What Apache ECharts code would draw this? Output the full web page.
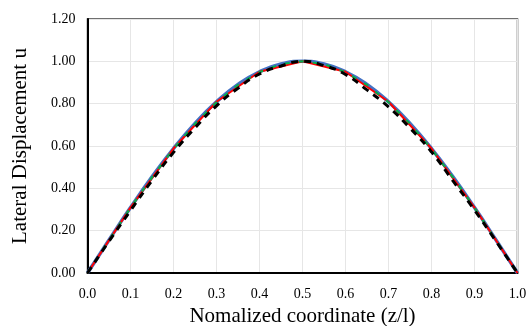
<!DOCTYPE html>
<html>
<head>
<meta charset="utf-8">
<script src="https://cdn.jsdelivr.net/npm/echarts@6/dist/echarts.min.js"></script>
<style>html,body{margin:0;padding:0;background:#fff}#c{width:529px;height:326px}</style>
</head>
<body>
<div id="c"></div>
<script>
// x positions
var xFine = [0,0.05,0.1,0.15,0.2,0.25,0.3,0.35,0.4,0.45,0.5,0.55,0.6,0.65,0.7,0.75,0.8,0.85,0.9,0.95,1.0];
var xCoarse = [0,0.1,0.2,0.3,0.4,0.5,0.6,0.7,0.8,0.9,1.0];
// series values
var blueVals  = [0,0.156,0.309,0.454,0.588,0.707,0.809,0.891,0.951,0.988,1.0,0.988,0.951,0.891,0.809,0.707,0.588,0.454,0.309,0.156,0];
var redVals   = [0,0.309,0.588,0.809,0.951,1.0,0.951,0.809,0.588,0.309,0];
var greenVals = [0,0.155,0.308,0.452,0.586,0.705,0.807,0.889,0.949,0.987,1.0,0.987,0.949,0.889,0.807,0.705,0.586,0.452,0.308,0.155,0];
var blackVals = [0,0.150,0.295,0.437,0.570,0.686,0.790,0.873,0.940,0.978,1.0,0.980,0.938,0.865,0.785,0.685,0.572,0.435,0.297,0.150,0];
// ticks
var xTicks = ['0.0','0.1','0.2','0.3','0.4','0.5','0.6','0.7','0.8','0.9','1.0'];
var yTicks = ['0.00','0.20','0.40','0.60','0.80','1.00','1.20'];

function pairs(xs, ys){ return xs.map(function(x,i){ return [x, ys[i]]; }); }

var font = '"Liberation Serif","Times New Roman",serif';
var chart = echarts.init(document.getElementById('c'), null, {renderer:'canvas'});
chart.setOption({
  animation:false,
  backgroundColor:'#fff',
  grid:{left:87.5, right:11.5, top:19, bottom:53, show:true, borderColor:'#404040', borderWidth:1.5, containLabel:false, outerBoundsMode:'none'},
  xAxis:{
    type:'value', min:0, max:1, interval:0.1,
    name:'Nomalized coordinate (z/l)', nameLocation:'middle', nameGap:27,
    nameTextStyle:{fontFamily:font, fontSize:21, color:'#000'},
    axisLine:{show:true, lineStyle:{color:'#000', width:2}},
    axisTick:{show:false},
    axisLabel:{fontFamily:font, fontSize:14, color:'#000', margin:14,
      formatter:function(v){ var i=Math.round(v*10); return xTicks[i]; }},
    splitLine:{show:true, lineStyle:{color:'#e6e6e6', width:1}}
  },
  yAxis:{
    type:'value', min:0, max:1.2, interval:0.2,
    name:'Lateral Displacement u', nameLocation:'middle', nameGap:57,
    nameTextStyle:{fontFamily:font, fontSize:21, color:'#000'},
    axisLine:{show:true, lineStyle:{color:'#000', width:2}},
    axisTick:{show:false},
    axisLabel:{fontFamily:font, fontSize:14, color:'#000', margin:12,
      formatter:function(v){ var i=Math.round(v*5); return yTicks[i]; }},
    splitLine:{show:true, lineStyle:{color:'#e6e6e6', width:1}}
  },
  series:[
    {type:'line', data:pairs(xFine, blueVals), smooth:true, showSymbol:false, lineStyle:{color:'#4472C4', width:3.5}, z:2},
    {type:'line', data:pairs(xCoarse, redVals), showSymbol:false, lineStyle:{color:'#FF0000', width:2}, z:3},
    {type:'line', data:pairs(xFine, greenVals), showSymbol:false, lineStyle:{color:'#00B050', width:2, type:[5,9]}, z:4},
    {type:'line', data:pairs(xFine, blackVals), smooth:true, showSymbol:false, lineStyle:{color:'#000', width:3, type:[7,6]}, z:5}
  ]
});
</script>
</body>
</html>
